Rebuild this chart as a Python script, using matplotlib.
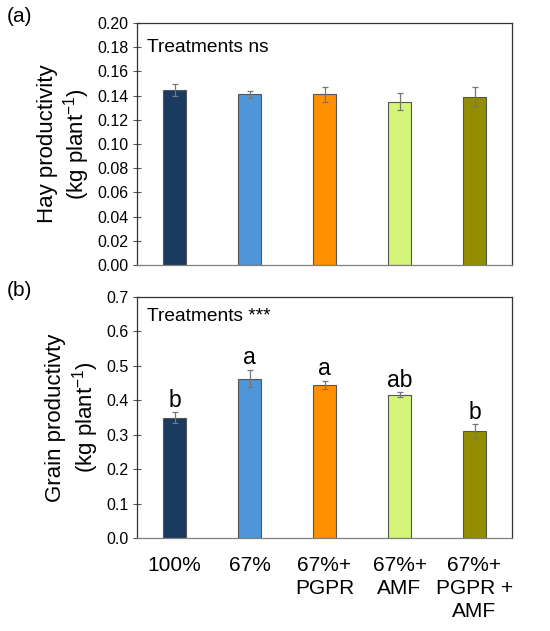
import numpy as np
import matplotlib.pyplot as plt

# --- Data ---
treatments = ['100%', '67%', '67%+\nPGPR', '67%+\nAMF', '67%+\nPGPR +\nAMF']
hay = [0.145, 0.141, 0.141, 0.135, 0.139]
hay_err = [0.005, 0.003, 0.006, 0.007, 0.008]
grain = [0.350, 0.463, 0.445, 0.416, 0.310]
grain_err = [0.015, 0.025, 0.012, 0.007, 0.020]
grain_letters = ['b', 'a', 'a', 'ab', 'b']
colors = ['#1a3a5f', '#4e96d8', '#ff9100', '#d4f57a', '#938d00']

plt.rcParams['font.family'] = ['Liberation Sans', 'DejaVu Sans']
plt.rcParams['mathtext.fontset'] = 'custom'
plt.rcParams['mathtext.rm'] = 'Liberation Sans'
plt.rcParams['mathtext.default'] = 'regular'

fig = plt.figure(figsize=(5.5, 6.31), dpi=100)
ax1 = fig.add_axes([137 / 550, 1 - 265 / 631, 375 / 550, 242 / 631])
ax2 = fig.add_axes([137 / 550, 1 - 538 / 631, 375 / 550, 241 / 631])

x = np.arange(len(treatments))


def style(ax):
    for s in ax.spines.values():
        s.set_color('#333333')
        s.set_linewidth(0.9)
    ax.spines['bottom'].set_color('#808080')
    ax.tick_params(axis='y', direction='inout', length=6, width=0.8,
                   color='#555555', labelsize=11.5, pad=3)
    ax.tick_params(axis='x', length=0)
    ax.set_xlim(-0.5, len(treatments) - 0.5)


# --- (a) Hay ---
ax1.bar(x, hay, width=0.31, color=colors, edgecolor='#555555', linewidth=0.8,
        yerr=hay_err, error_kw=dict(ecolor='#777777', elinewidth=0.9, capsize=2.5, capthick=0.9))
ax1.set_ylim(0, 0.20)
ax1.set_yticks(np.arange(0, 0.201, 0.02))
ax1.set_yticklabels([f'{v:.2f}' for v in np.arange(0, 0.201, 0.02)])
ax1.set_xticks([])
style(ax1)
ax1.set_ylabel('Hay productivity\n(kg plant$^{-1}$)', fontsize=16, labelpad=4, linespacing=1.15)
ax1.text(0.027, 0.935, 'Treatments ns', transform=ax1.transAxes, fontsize=13.8, va='top')
fig.text(7 / 550, 1 - 17 / 631, '(a)', fontsize=15, va='center')

# --- (b) Grain ---
ax2.bar(x, grain, width=0.31, color=colors, edgecolor='#555555', linewidth=0.8,
        yerr=grain_err, error_kw=dict(ecolor='#777777', elinewidth=0.9, capsize=2.5, capthick=0.9))
ax2.set_ylim(0, 0.7)
ax2.set_yticks(np.arange(0, 0.71, 0.1))
ax2.set_yticklabels([f'{v:.1f}' for v in np.arange(0, 0.71, 0.1)])
ax2.set_xticks(x)
ax2.set_xticklabels(treatments, fontsize=15, linespacing=1.25)
style(ax2)
ax2.tick_params(axis='x', pad=13)
ax2.set_ylabel('Grain productivty\n(kg plant$^{-1}$)', fontsize=16, labelpad=4, linespacing=1.15)
ax2.text(0.027, 0.955, 'Treatments ***', transform=ax2.transAxes, fontsize=13.8, va='top')
for xi, v, e, lab in zip(x, grain, grain_err, grain_letters):
    ax2.text(xi, v + e + 0.002, lab, ha='center', va='bottom', fontsize=16.5)
fig.text(7 / 550, 1 - 291 / 631, '(b)', fontsize=15, va='center')

fig.savefig('out.png', dpi=100)
